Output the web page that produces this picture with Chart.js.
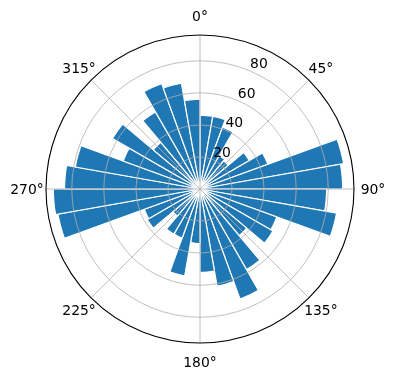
<!DOCTYPE html>
<html>
<head>
<meta charset="utf-8">
<script src="https://cdn.jsdelivr.net/npm/chart.js@4.4.1/dist/chart.umd.min.js"></script>
<style>
  html, body { margin: 0; padding: 0; background: #ffffff; }
  #c { display: block; }
</style>
</head>
<body>
<canvas id="c" width="396" height="380"></canvas>
<script>
// Direction sectors (10° each, clockwise from north)
const sectors = ['0°','10°','20°','30°','40°','50°','60°','70°','80°','90°','100°','110°',
                 '120°','130°','140°','150°','160°','170°','180°','190°','200°','210°','220°','230°',
                 '240°','250°','260°','270°','280°','290°','300°','310°','320°','330°','340°','350°'];
// Bar lengths per sector
const values = [46, 46, 41, 24, 23, 35.5, 45, 91, 89, 79, 86.5, 51,
                52.5, 38, 58, 73, 61.5, 52, 34, 55, 32.5, 32.5, 22, 38,
                37, 90, 91.5, 84.5, 79, 51, 63, 38, 55.5, 70, 67, 56];
// Radial tick labels
const radialTicks = [20, 40, 60, 80];
// Angular tick positions and labels
const angleTicks = [0, 45, 90, 135, 180, 225, 270, 315];
const angleTickLabels = ['0°', '45°', '90°', '135°', '180°', '225°', '270°', '315°'];

const rMax = Math.max(...values) * 1.05;
const FONT = "13.9px 'DejaVu Sans'";

const overlay = {
  id: 'overlay',
  afterDraw(chart) {
    const s = chart.scales.r;
    const ctx = chart.ctx;
    const cx = s.xCenter, cy = s.yCenter, R = s.drawingArea;
    const rad = d => d * Math.PI / 180;
    ctx.save();
    ctx.strokeStyle = '#b0b0b0';
    ctx.lineWidth = 0.8;
    angleTicks.forEach(a => {
      const t = rad(a);
      ctx.beginPath();
      ctx.moveTo(cx, cy);
      ctx.lineTo(cx + R * Math.sin(t), cy - R * Math.cos(t));
      ctx.stroke();
    });
    radialTicks.forEach(v => {
      const d = s.getDistanceFromCenterForValue(v);
      ctx.beginPath();
      ctx.arc(cx, cy, d, 0, Math.PI * 2);
      ctx.stroke();
    });
    ctx.strokeStyle = '#000000';
    ctx.lineWidth = 1.1;
    ctx.beginPath();
    ctx.arc(cx, cy, R, 0, Math.PI * 2);
    ctx.stroke();
    ctx.fillStyle = '#000000';
    ctx.font = FONT;
    ctx.textAlign = 'left';
    ctx.textBaseline = 'alphabetic';
    const lt = rad(22.5);
    radialTicks.forEach(v => {
      const d = s.getDistanceFromCenterForValue(v);
      ctx.fillText(String(v), cx + d * Math.sin(lt) + 1, cy - d * Math.cos(lt) - 2.5);
    });
    ctx.textAlign = 'center';
    ctx.textBaseline = 'middle';
    angleTicks.forEach((a, i) => {
      const t = rad(a);
      const off = (a % 90 === 0) ? 19 : 17;
      ctx.fillText(angleTickLabels[i], cx + (R + off) * Math.sin(t), cy - (R + off) * Math.cos(t) + 1);
    });
    ctx.restore();
  }
};

new Chart(document.getElementById('c'), {
  type: 'polarArea',
  data: {
    labels: sectors,
    datasets: [{
      data: values,
      backgroundColor: '#1f77b4',
      borderColor: '#ffffff',
      borderWidth: 1.2
    }]
  },
  options: {
    responsive: false,
    animation: false,
    layout: { padding: { left: 46, right: 42, top: 35, bottom: 37 } },
    plugins: { legend: { display: false }, tooltip: { enabled: false } },
    scales: {
      r: {
        min: 0,
        max: rMax,
        startAngle: 0,
        ticks: { display: false },
        grid: { display: false },
        angleLines: { display: false },
        pointLabels: { display: false }
      }
    }
  },
  plugins: [overlay]
});
</script>
</body>
</html>
